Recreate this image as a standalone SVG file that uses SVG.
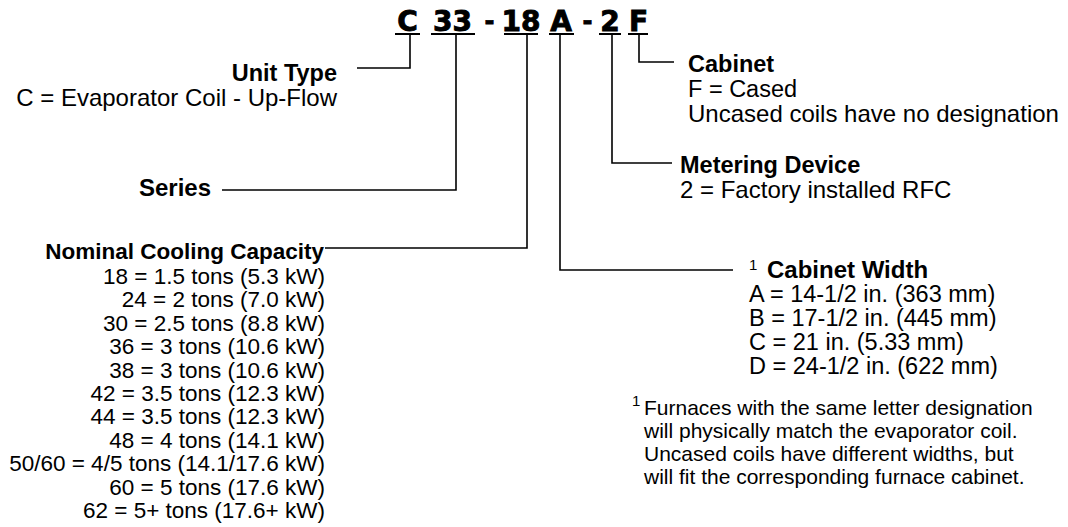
<svg xmlns="http://www.w3.org/2000/svg" width="1068" height="527" viewBox="0 0 1068 527">
<style>
.code{font-family:"DejaVu Sans",sans-serif;font-weight:bold;font-size:28px;fill:#000;stroke:#000;stroke-width:0.9;text-anchor:middle}
.dash{font-family:"DejaVu Sans",sans-serif;font-weight:bold;font-size:24px;fill:#000;stroke:#000;stroke-width:0.8;text-anchor:middle}
.t{font-family:"Liberation Sans",Arial,sans-serif;font-size:24px;fill:#000}
.b{font-weight:bold}
.e{text-anchor:end}
.n{font-size:22.5px}
.w{font-size:23.5px}
.fn{font-size:21px}
.sup{font-size:15px}
.ln{fill:none;stroke:#000;stroke-width:1.6}
.ul{fill:none;stroke:#000;stroke-width:2.2}
</style>
<rect width="1068" height="527" fill="#fff"/>
<g id="code">
<text class="code" x="407.5" y="31">C</text>
<text class="code" x="452.5" y="31">33</text>
<text class="dash" x="489.5" y="29">-</text>
<text class="code" x="521" y="31">18</text>
<text class="code" x="561" y="31">A</text>
<text class="dash" x="587.5" y="29">-</text>
<text class="code" x="610" y="31">2</text>
<text class="code" x="638.5" y="31">F</text>
<path class="ul" d="M395,34H420M431,34H475M504,34H538M549,34H574M599,34H621M628,34H648"/>
</g>
<g id="connectors">
<path class="ln" d="M357,68H410V34"/>
<path class="ln" d="M222,190H456V34"/>
<path class="ln" d="M325,248H527V34"/>
<path class="ln" d="M733,270H560V34"/>
<path class="ln" d="M672,163H612V34"/>
<path class="ln" d="M674,62H639V34"/>
</g>
<g id="unit-type">
<text class="t b e w" x="337" y="81">Unit Type</text>
<text class="t e" x="337" y="106">C = Evaporator Coil - Up-Flow</text>
</g>
<g id="series">
<text class="t b e" x="211" y="196">Series</text>
</g>
<g id="capacity">
<text class="t b e n" x="324" y="259">Nominal Cooling Capacity</text>
<text class="t e n" x="325" y="284">18 = 1.5 tons (5.3 kW)</text>
<text class="t e n" x="325" y="307.4">24 = 2 tons (7.0 kW)</text>
<text class="t e n" x="325" y="330.8">30 = 2.5 tons (8.8 kW)</text>
<text class="t e n" x="325" y="354.2">36 = 3 tons (10.6 kW)</text>
<text class="t e n" x="325" y="377.6">38 = 3 tons (10.6 kW)</text>
<text class="t e n" x="325" y="401">42 = 3.5 tons (12.3 kW)</text>
<text class="t e n" x="325" y="424.4">44 = 3.5 tons (12.3 kW)</text>
<text class="t e n" x="325" y="447.8">48 = 4 tons (14.1 kW)</text>
<text class="t e n" x="325" y="471.2">50/60 = 4/5 tons (14.1/17.6 kW)</text>
<text class="t e n" x="325" y="494.6">60 = 5 tons (17.6 kW)</text>
<text class="t e n" x="325" y="518">62 = 5+ tons (17.6+ kW)</text>
</g>
<g id="cabinet">
<text class="t b w" x="688" y="72">Cabinet</text>
<text class="t w" x="688" y="96.5">F = Cased</text>
<text class="t" x="688" y="121.5">Uncased coils have no designation</text>
</g>
<g id="metering">
<text class="t b w" x="680" y="172.5">Metering Device</text>
<text class="t" x="680" y="197.5">2 = Factory installed RFC</text>
</g>
<g id="cabinet-width">
<text class="t sup" x="749" y="270">1</text>
<text class="t b" x="767" y="278">Cabinet Width</text>
<text class="t w" x="749" y="302">A = 14-1/2 in. (363 mm)</text>
<text class="t w" x="749" y="326">B = 17-1/2 in. (445 mm)</text>
<text class="t w" x="749" y="350">C = 21 in. (5.33 mm)</text>
<text class="t w" x="749" y="374">D = 24-1/2 in. (622 mm)</text>
</g>
<g id="footnote">
<text class="t sup" x="632" y="406">1</text>
<text class="t fn" x="644" y="415">Furnaces with the same letter designation</text>
<text class="t fn" x="644" y="438">will physically match the evaporator coil.</text>
<text class="t fn" x="644" y="461">Uncased coils have different widths, but</text>
<text class="t fn" x="644" y="484">will fit the corresponding furnace cabinet.</text>
</g>
</svg>
